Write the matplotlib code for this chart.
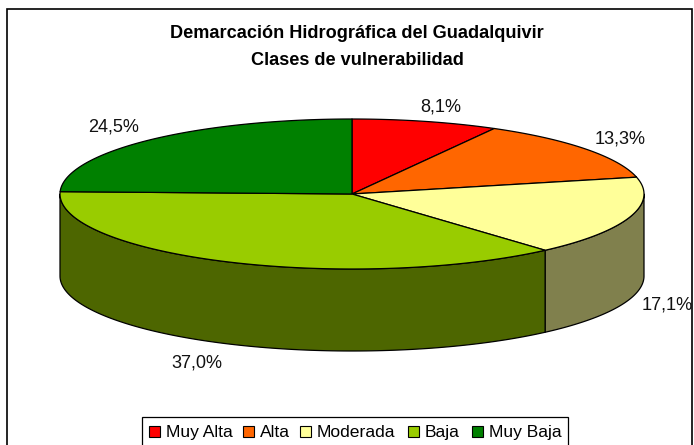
import numpy as np
import matplotlib
matplotlib.use("Agg")
import matplotlib.pyplot as plt
from matplotlib.patches import Polygon, Rectangle

plt.rcParams['font.family'] = ['Liberation Sans', 'DejaVu Sans']

# datos
categorias = ['Muy Alta', 'Alta', 'Moderada', 'Baja', 'Muy Baja']
valores = [8.1, 13.3, 17.1, 37.0, 24.5]
etiquetas = ['8,1%', '13,3%', '17,1%', '37,0%', '24,5%']
colores = ['#FF0000', '#FF6600', '#FFFF99', '#99CC00', '#008000']
colores_lado = ['#800000', '#803300', '#80804D', '#4D6600', '#004000']
pos_etiquetas = [(441, 105), (620, 137), (667, 304), (197, 361), (114, 126)]

W, H = 694, 445
CX, CY, RX, RY, PROF = 352, 194, 292, 75, 82


def punto(ang):
    # angulo en grados, desde arriba en sentido horario
    a = np.radians(ang)
    return CX + RX * np.sin(a), CY - RY * np.cos(a)


fig = plt.figure(figsize=(W / 100, H / 100), dpi=100)
ax = fig.add_axes([0, 0, 1, 1])
ax.set_xlim(0, W)
ax.set_ylim(H, 0)
ax.axis('off')

# marco del grafico
ax.add_patch(Rectangle((7.5, 8.5), 685, 460, fc='white', ec='black', lw=1.2))

limites = np.concatenate([[0], np.cumsum(valores)]) / np.sum(valores) * 360

# lado visible (solo la mitad delantera, de 90 a 270 grados)
for i in range(len(valores)):
    a0 = max(limites[i], 90)
    a1 = min(limites[i + 1], 270)
    if a1 <= a0:
        continue
    t = np.linspace(a0, a1, 120)
    x, y = punto(t)
    xs = np.concatenate([x, x[::-1]])
    ys = np.concatenate([y, y[::-1] + PROF])
    ax.add_patch(Polygon(np.column_stack([xs, ys]), closed=True, fc=colores_lado[i],
                         ec='black', lw=0.9, joinstyle='round'))

# cara superior
for i in range(len(valores)):
    t = np.linspace(limites[i], limites[i + 1], 150)
    x, y = punto(t)
    xs = np.concatenate([[CX], x])
    ys = np.concatenate([[CY], y])
    ax.add_patch(Polygon(np.column_stack([xs, ys]), closed=True, fc=colores[i],
                         ec='black', lw=0.9, joinstyle='round'))

# titulo
ax.text(357, 38, 'Demarcación Hidrográfica del Guadalquivir', ha='center', va='baseline',
        fontsize=13.1, fontweight='bold', color='black')
ax.text(357, 65, 'Clases de vulnerabilidad', ha='center', va='baseline',
        fontsize=13.1, fontweight='bold', color='black')

# etiquetas de porcentaje
for etiqueta, (x, y) in zip(etiquetas, pos_etiquetas):
    ax.text(x, y + 6, etiqueta, ha='center', va='baseline', fontsize=13.1, color='#111111')

# leyenda
ax.add_patch(Rectangle((142.5, 416.5), 426, 40, fc='white', ec='black', lw=0.9))
cuadros = [149, 243, 300, 408, 472]
for nombre, color, x in zip(categorias, colores, cuadros):
    ax.add_patch(Rectangle((x + 0.5, 425.5), 11, 11, fc=color, ec='black', lw=0.8))
    ax.text(x + 17, 437, nombre, ha='left', va='baseline', fontsize=12.6, color='black')

fig.savefig('out.png', dpi=100)
